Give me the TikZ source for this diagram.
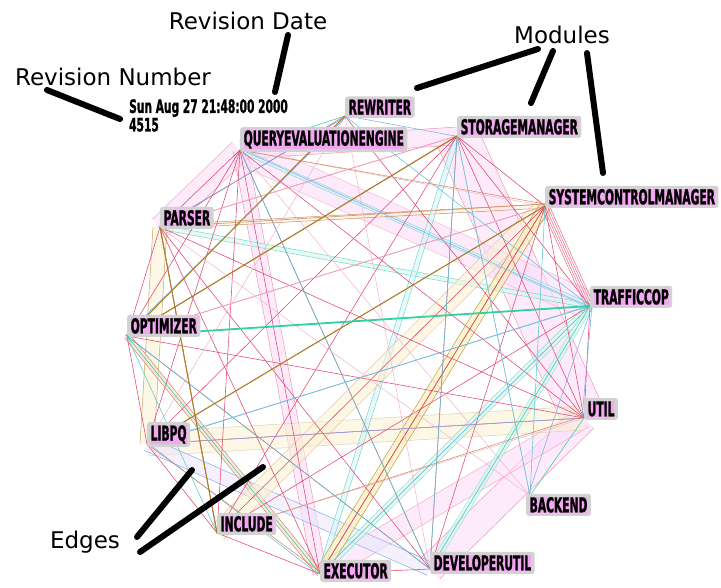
\documentclass[tikz,border=0pt]{standalone}
\usepackage{fontspec}
\setmainfont{DejaVu Sans}
\newfontfamily\modfont[FakeStretch=0.58, FakeBold=1.2]{DejaVu Sans Condensed}
\newfontfamily\stampfont[FakeStretch=0.64, FakeBold=1]{DejaVu Sans Condensed}
\usetikzlibrary{calc}

% palette
\definecolor{crim}{RGB}{226,70,110}
\definecolor{pinkl}{RGB}{240,165,195}
\definecolor{cyanl}{RGB}{85,200,215}
\definecolor{turq}{RGB}{45,210,165}
\definecolor{bluel}{RGB}{130,175,232}
\definecolor{olivel}{RGB}{170,128,40}
\definecolor{brownl}{RGB}{210,140,100}
\definecolor{pinkfill}{RGB}{251,220,249}
\definecolor{beigefill}{RGB}{251,241,214}
\definecolor{yellowfill}{RGB}{250,240,175}
\definecolor{lavfill}{RGB}{236,232,252}
\definecolor{cyanfill}{RGB}{215,246,244}
\definecolor{brownfill}{RGB}{246,218,205}
\definecolor{labgray}{RGB}{210,210,210}
\definecolor{labpink}{RGB}{242,168,240}

% a wide edge: filled strip with a thin border on each side
\newcommand{\edgeband}[5]{%
  \fill[#5, fill opacity=0.6]
    ($(#1)!#3!90:(#2)$) -- ($(#2)!#3!-90:(#1)$) --
    ($(#2)!#3!90:(#1)$) -- ($(#1)!#3!-90:(#2)$) -- cycle;
  \draw[#4, line width=0.5pt] ($(#1)!#3!90:(#2)$) -- ($(#2)!#3!-90:(#1)$);
  \draw[#4, line width=0.5pt] ($(#1)!#3!-90:(#2)$) -- ($(#2)!#3!90:(#1)$);
}
\newcommand{\modlabel}[1]{{\setlength{\fboxsep}{0pt}\colorbox{labpink}{#1}}}

\tikzset{
  modbox/.style={fill=labgray, rounded corners=2.5pt, inner xsep=3.5pt,
    inner ysep=3.2pt, anchor=south west,
    font=\modfont\bfseries\fontsize{20.5}{20}\selectfont},
  ann/.style={font=\fontsize{23}{23}\selectfont, inner sep=0pt},
  pointer/.style={line width=6pt, line cap=round, black},
  thin/.style={line width=0.55pt, #1},
}

\begin{document}
\begin{tikzpicture}[x=1pt, y=-1pt]
\useasboundingbox (0,0) rectangle (721,587);

% ---- modules (invisible placement first so the ports exist)
\begin{scope}[opacity=0]
\node[modbox] (rw)  at (345,118) {\modlabel{REWRITER}};
\node[modbox] (sm)  at (457,138) {\modlabel{STORAGEMANAGER}};
\node[modbox] (qe)  at (240,152) {\modlabel{QUERYEVALUATIONENGINE}};
\node[modbox] (scm) at (545,208) {\modlabel{SYSTEMCONTROLMANAGER}};
\node[modbox] (ps)  at (160,229) {\modlabel{PARSER}};
\node[modbox] (tc)  at (590,308) {\modlabel{TRAFFICCOP}};
\node[modbox] (op)  at (127,337) {\modlabel{OPTIMIZER}};
\node[modbox] (ut)  at (584,420) {\modlabel{UTIL}};
\node[modbox] (lq)  at (147,447) {\modlabel{LIBPQ}};
\node[modbox] (be)  at (526,516) {\modlabel{BACKEND}};
\node[modbox] (in)  at (217,535) {\modlabel{INCLUDE}};
\node[modbox] (du)  at (430,574) {\modlabel{DEVELOPERUTIL}};
\node[modbox] (ex)  at (320,582) {\modlabel{EXECUTOR}};
\end{scope}

% ports where the edges meet each module
\coordinate (rwP)  at ([yshift=2pt]rw.south west);
\coordinate (smP)  at ([yshift=2pt]sm.south west);
\coordinate (qeP)  at ([yshift=2pt]qe.south west);
\coordinate (scmP) at ([yshift=2pt]scm.south west);
\coordinate (psP)  at ([yshift=2pt]ps.south west);
\coordinate (tcP)  at ([yshift=2pt]tc.south west);
\coordinate (opP)  at ([yshift=1pt]op.south west);
\coordinate (utP)  at ([yshift=2pt]ut.south west);
\coordinate (lqP)  at ([yshift=3pt]lq.south west);
\coordinate (beP)  at ([xshift=4pt,yshift=-2pt]be.north west);
\coordinate (inP)  at ([yshift=2pt]in.south west);
\coordinate (duP)  at ([yshift=5pt]du.south west);
\coordinate (exP)  at ([yshift=-3pt]ex.west);

% ---- wide edges
\edgeband{smP}{utP}{22pt}{crim!55}{pinkfill}
\edgeband{duP}{utP}{14pt}{crim!55}{pinkfill}
\edgeband{exP}{utP}{10pt}{crim!45}{pinkfill}
\edgeband{qeP}{smP}{9pt}{crim!55}{pinkfill}
\edgeband{psP}{qeP}{11pt}{crim!45}{pinkfill}
\edgeband{qeP}{exP}{7pt}{crim!55}{pinkfill}
\edgeband{qeP}{tcP}{14pt}{crim!35}{pinkfill}
\edgeband{lqP}{utP}{12pt}{olivel!35}{beigefill}
\edgeband{psP}{lqP}{7pt}{olivel!70}{beigefill}
\edgeband{lqP}{duP}{7pt}{bluel}{lavfill}
\edgeband{opP}{exP}{3pt}{brownl}{brownfill}
\edgeband{tcP}{exP}{3.5pt}{turq!60}{cyanfill}
\edgeband{tcP}{duP}{3pt}{turq!50}{cyanfill}
\edgeband{psP}{tcP}{2.2pt}{turq!70}{cyanfill}
\edgeband{qeP}{tcP}{2pt}{cyanl!70}{cyanfill}
\edgeband{psP}{scmP}{2pt}{brownl}{beigefill}
\edgeband{smP}{exP}{2.5pt}{cyanl!80}{cyanfill}
\edgeband{scmP}{inP}{9pt}{brownl!50}{beigefill}
\edgeband{exP}{scmP}{5.5pt}{olivel!80}{yellowfill}
\draw[thin=crim] (exP) -- (scmP);
\foreach \d in {-4,-2,0,2,4}
  \draw[thin=crim!75] ($(scmP)!\d pt!90:(tcP)$) -- ($(tcP)!\d pt!-90:(scmP)$);

% ---- thin edges
\foreach \a/\b in {qeP/duP, qeP/utP, qeP/inP, qeP/lqP, qeP/opP, smP/opP,
    smP/lqP, smP/inP, smP/duP, smP/psP, scmP/exP, scmP/opP, scmP/inP,
    scmP/duP, psP/exP, psP/utP, psP/duP, opP/utP, opP/duP, lqP/utP,
    lqP/inP, inP/exP, exP/duP, tcP/inP, qeP/psP, opP/psP, opP/lqP,
    utP/smP, rwP/utP, rwP/psP, smP/tcP, scmP/utP, qeP/exP, psP/inP,
    smP/scmP, tcP/utP}
  \draw[thin=crim] (\a) -- (\b);
\foreach \a/\b in {rwP/duP, qeP/beP, psP/beP, inP/utP, smP/beP, opP/tcP,
    rwP/lqP, qeP/scmP, lqP/scmP, psP/smP, opP/scmP, exP/tcP}
  \draw[thin=pinkl!80] (\a) -- (\b);
\foreach \a/\b in {smP/duP, smP/beP, rwP/tcP, scmP/beP, opP/inP, opP/duP,
    qeP/duP, tcP/exP, lqP/tcP}
  \draw[thin=cyanl] (\a) -- (\b);
\foreach \a/\b in {utP/beP, rwP/qeP, opP/exP, tcP/duP}
  \draw[thin=turq] (\a) -- (\b);
\foreach \a/\b in {rwP/psP, lqP/tcP, lqP/utP, tcP/utP, tcP/beP, lqP/exP,
    qeP/tcP, rwP/opP, rwP/smP}
  \draw[thin=bluel] ([xshift=2pt]\a) -- ([xshift=-2pt]\b);
\foreach \a/\b in {qeP/scmP, inP/utP, lqP/exP, psP/scmP}
  \draw[thin=brownl] (\a) -- ([yshift=2pt]\b);
\foreach \a/\b in {rwP/opP, opP/smP, lqP/scmP, psP/inP}
  \draw[line width=1.1pt, olivel] (\a) -- (\b);
\draw[line width=1.8pt, turq] (opP) -- (tcP);

% ---- module labels
\node[modbox] (rwL)  at (345,118) {\modlabel{REWRITER}};
\node[modbox] (smL)  at (457,138) {\modlabel{STORAGEMANAGER}};
\node[modbox] (qeL)  at (240,152) {\modlabel{QUERYEVALUATIONENGINE}};
\node[modbox] (scmL) at (545,208) {\modlabel{SYSTEMCONTROLMANAGER}};
\node[modbox] (psL)  at (160,229) {\modlabel{PARSER}};
\node[modbox] (tcL)  at (590,308) {\modlabel{TRAFFICCOP}};
\node[modbox] (opL)  at (127,337) {\modlabel{OPTIMIZER}};
\node[modbox] (utL)  at (584,420) {\modlabel{UTIL}};
\node[modbox] (lqL)  at (147,447) {\modlabel{LIBPQ}};
\node[modbox] (beL)  at (526,516) {\modlabel{BACKEND}};
\node[modbox] (inL)  at (217,535) {\modlabel{INCLUDE}};
\node[modbox] (duL)  at (430,574) {\modlabel{DEVELOPERUTIL}};
\node[modbox] (exL)  at (320,582) {\modlabel{EXECUTOR}};

% ---- revision stamp
\node[anchor=north west, inner sep=0pt, align=left,
  font=\stampfont\bfseries\fontsize{18.5}{15.5}\selectfont] (rev) at (129,99)
  {Sun Aug 27 21:48:00 2000\\4515};

% ---- annotations
\node[ann] (tDate) at (248,21) {Revision Date};
\node[ann] (tNum)  at (113,77) {Revision Number};
\node[ann] (tMod)  at (562,35) {Modules};
\node[ann] (tEdge) at (85,542) {Edges};

\coordinate (dA) at (288,35);  \coordinate (dB) at (275,92);
\coordinate (nA) at (47,90);   \coordinate (nB) at (120,119);
\coordinate (mA) at (538,49);  \coordinate (mB) at (417,88);
\coordinate (mC) at (553,51);  \coordinate (mD) at (531,103);
\coordinate (mE) at (587,53);  \coordinate (mF) at (603,173);
\coordinate (eA) at (137,537); \coordinate (eB) at (192,470);
\coordinate (eC) at (140,552); \coordinate (eD) at (263,467);
\draw[pointer] (dA) -- (dB);
\draw[pointer] (nA) -- (nB);
\draw[pointer] (mA) -- (mB);
\draw[pointer] (mC) -- (mD);
\draw[pointer] (mE) -- (mF);
\draw[pointer] (eA) -- (eB);
\draw[pointer] (eC) -- (eD);
\end{tikzpicture}
\end{document}
